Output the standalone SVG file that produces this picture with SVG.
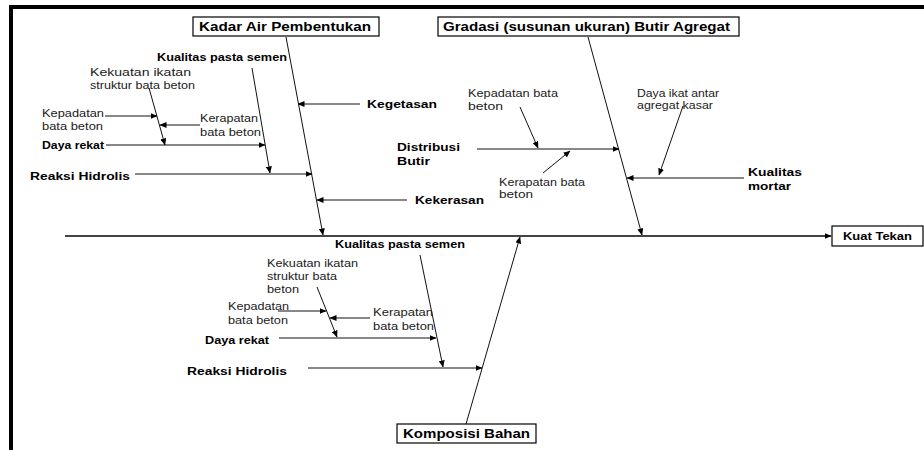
<svg xmlns="http://www.w3.org/2000/svg" width="924" height="450" viewBox="0 0 924 450">
<style>
text{font-family:"Liberation Sans",Arial,sans-serif;fill:#000}
.b{font-weight:bold}
.t{font-size:12.5px;font-weight:bold}
.m{font-size:11.5px}
.s{font-size:10.5px}
.n{font-size:10.5px;fill:#1a1a1a}
.box{fill:#fff;stroke:#000;stroke-width:1.2}
.ln{stroke:#111;stroke-width:1;fill:none}
.spine{stroke:#444;stroke-width:1.8;fill:none}
</style>
<defs>
<marker id="ah" markerWidth="7" markerHeight="6" refX="6.5" refY="3" orient="auto" markerUnits="userSpaceOnUse">
<path d="M0,0 L7,3 L0,6 z" fill="#000"/>
</marker>
</defs>
<rect x="0" y="0" width="924" height="450" fill="#fff"/>
<g id="frame">
<rect x="9" y="5" width="915" height="4" fill="#000"/>
<rect x="9" y="5" width="4" height="445" fill="#000"/>
</g>
<g id="connectors" marker-end="url(#ah)">
<line class="spine" x1="65" y1="236" x2="831" y2="236"/>
<line class="ln" x1="286" y1="37" x2="323" y2="235"/>
<line class="ln" x1="588" y1="37" x2="642" y2="235"/>
<line class="ln" x1="466" y1="424" x2="520" y2="237"/>
<line class="ln" x1="360" y1="104" x2="298" y2="104"/>
<line class="ln" x1="407" y1="200" x2="317" y2="200"/>
<line class="ln" x1="135" y1="174" x2="312" y2="174"/>
<line class="ln" x1="252" y1="68" x2="270" y2="173"/>
<line class="ln" x1="106" y1="145" x2="265" y2="145"/>
<line class="ln" x1="149" y1="88" x2="165" y2="145"/>
<line class="ln" x1="105" y1="116" x2="157" y2="116"/>
<line class="ln" x1="200" y1="125" x2="160" y2="125"/>
<line class="ln" x1="477" y1="149" x2="619" y2="149"/>
<line class="ln" x1="520" y1="107" x2="538" y2="148"/>
<line class="ln" x1="543" y1="173" x2="570" y2="151"/>
<line class="ln" x1="744" y1="178" x2="627" y2="178"/>
<line class="ln" x1="683" y1="106" x2="659" y2="175"/>
<line class="ln" x1="420" y1="255" x2="443" y2="367"/>
<line class="ln" x1="308" y1="368" x2="482" y2="368"/>
<line class="ln" x1="279" y1="338" x2="436" y2="338"/>
<line class="ln" x1="317" y1="287" x2="337" y2="337"/>
<line class="ln" x1="278" y1="311" x2="326" y2="311"/>
<line class="ln" x1="370" y1="318" x2="330" y2="318"/>
</g>
<g id="kadar-air">
<rect class="box" x="193" y="17" width="186" height="19"/>
<text class="t" x="199" y="31" textLength="172" lengthAdjust="spacingAndGlyphs">Kadar Air Pembentukan</text>
</g>
<g id="gradasi">
<rect class="box" x="438" y="17" width="301" height="19"/>
<text class="t" x="443" y="31" textLength="287" lengthAdjust="spacingAndGlyphs">Gradasi (susunan ukuran) Butir Agregat</text>
</g>
<g id="komposisi">
<rect class="box" x="397" y="424" width="139" height="19"/>
<text class="t" x="403" y="438" textLength="127" lengthAdjust="spacingAndGlyphs">Komposisi Bahan</text>
</g>
<g id="kuat-tekan">
<rect class="box" x="832" y="226" width="91" height="20"/>
<text class="b s" x="843" y="240" textLength="69" lengthAdjust="spacingAndGlyphs">Kuat Tekan</text>
</g>
<g id="kualitas-pasta-top"><text class="b s" x="157" y="61" textLength="130" lengthAdjust="spacingAndGlyphs">Kualitas pasta semen</text></g>
<g id="kekuatan-top">
<text class="n" x="90" y="76" textLength="101" lengthAdjust="spacingAndGlyphs">Kekuatan ikatan</text>
<text class="n" x="90" y="89" textLength="105" lengthAdjust="spacingAndGlyphs">struktur bata beton</text>
</g>
<g id="kepadatan-top">
<text class="n" x="42" y="117" textLength="62" lengthAdjust="spacingAndGlyphs">Kepadatan</text>
<text class="n" x="42" y="130" textLength="61" lengthAdjust="spacingAndGlyphs">bata beton</text>
</g>
<g id="kerapatan-top">
<text class="n" x="200" y="122" textLength="58" lengthAdjust="spacingAndGlyphs">Kerapatan</text>
<text class="n" x="200" y="136" textLength="61" lengthAdjust="spacingAndGlyphs">bata beton</text>
</g>
<g id="daya-rekat-top"><text class="b s" x="42" y="149" textLength="62" lengthAdjust="spacingAndGlyphs">Daya rekat</text></g>
<g id="reaksi-top"><text class="b m" x="30" y="180" textLength="100" lengthAdjust="spacingAndGlyphs">Reaksi Hidrolis</text></g>
<g id="kegetasan"><text class="b m" x="367" y="108" textLength="70" lengthAdjust="spacingAndGlyphs">Kegetasan</text></g>
<g id="kekerasan"><text class="b m" x="415" y="204" textLength="69" lengthAdjust="spacingAndGlyphs">Kekerasan</text></g>
<g id="distribusi">
<text class="b m" x="397" y="151" textLength="63" lengthAdjust="spacingAndGlyphs">Distribusi</text>
<text class="b m" x="397" y="165" textLength="33" lengthAdjust="spacingAndGlyphs">Butir</text>
</g>
<g id="kepadatan-gradasi">
<text class="n" x="468" y="97" textLength="90" lengthAdjust="spacingAndGlyphs">Kepadatan bata</text>
<text class="n" x="468" y="110" textLength="35" lengthAdjust="spacingAndGlyphs">beton</text>
</g>
<g id="kerapatan-gradasi">
<text class="n" x="499" y="186" textLength="86" lengthAdjust="spacingAndGlyphs">Kerapatan bata</text>
<text class="n" x="499" y="198" textLength="34" lengthAdjust="spacingAndGlyphs">beton</text>
</g>
<g id="daya-ikat">
<text class="n" x="637" y="97" textLength="82" lengthAdjust="spacingAndGlyphs">Daya ikat antar</text>
<text class="n" x="637" y="109" textLength="76" lengthAdjust="spacingAndGlyphs">agregat kasar</text>
</g>
<g id="kualitas-mortar">
<text class="b m" x="748" y="176" textLength="54" lengthAdjust="spacingAndGlyphs">Kualitas</text>
<text class="b m" x="748" y="190" textLength="43" lengthAdjust="spacingAndGlyphs">mortar</text>
</g>
<g id="kualitas-pasta-bottom"><text class="b s" x="335" y="248" textLength="130" lengthAdjust="spacingAndGlyphs">Kualitas pasta semen</text></g>
<g id="kekuatan-bottom">
<text class="n" x="267" y="267" textLength="91" lengthAdjust="spacingAndGlyphs">Kekuatan ikatan</text>
<text class="n" x="267" y="280" textLength="70" lengthAdjust="spacingAndGlyphs">struktur bata</text>
<text class="n" x="267" y="293" textLength="32" lengthAdjust="spacingAndGlyphs">beton</text>
</g>
<g id="kepadatan-bottom">
<text class="n" x="228" y="310" textLength="61" lengthAdjust="spacingAndGlyphs">Kepadatan</text>
<text class="n" x="228" y="324" textLength="60" lengthAdjust="spacingAndGlyphs">bata beton</text>
</g>
<g id="kerapatan-bottom">
<text class="n" x="373" y="316" textLength="60" lengthAdjust="spacingAndGlyphs">Kerapatan</text>
<text class="n" x="373" y="330" textLength="61" lengthAdjust="spacingAndGlyphs">bata beton</text>
</g>
<g id="daya-rekat-bottom"><text class="b s" x="205" y="344" textLength="64" lengthAdjust="spacingAndGlyphs">Daya rekat</text></g>
<g id="reaksi-bottom"><text class="b m" x="187" y="375" textLength="100" lengthAdjust="spacingAndGlyphs">Reaksi Hidrolis</text></g>
</svg>
